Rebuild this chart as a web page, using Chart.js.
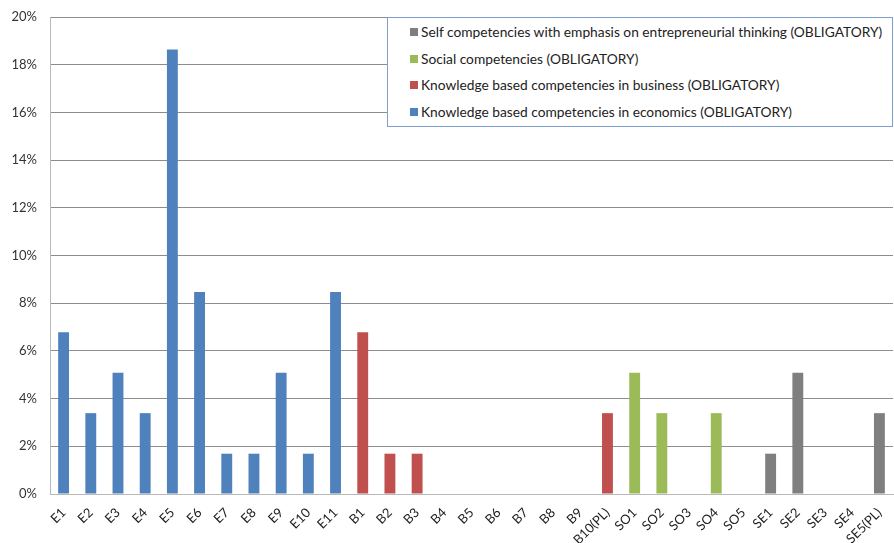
<!DOCTYPE html>
<html>
<head>
<meta charset="utf-8">
<script src="https://cdn.jsdelivr.net/npm/chart.js@4/dist/chart.umd.min.js"></script>
<style>
  html, body { margin: 0; padding: 0; background: #fff; }
  #wrap { position: relative; width: 894px; height: 543px; }
  #legend {
    position: absolute; left: 387px; top: 17px; width: 506px; height: 110px;
    box-sizing: border-box; border: 1px solid #7fa0cf; background: #fff;
    font-family: Lato, "Liberation Sans", sans-serif; font-size: 13.75px; color: #222;
    padding: 1px 0 0 22px;
  }
  #legend .item { height: 26.5px; line-height: 26.5px; white-space: nowrap; display: flex; align-items: center; }
  #legend .sw { width: 8px; height: 8px; margin-right: 3px; display: inline-block; }
</style>
</head>
<body>
<div id="wrap">
  <canvas id="c" width="894" height="543"></canvas>
  <div id="legend"></div>
</div>
<script>
// Competency codes along the x axis
const categories = ['E1','E2','E3','E4','E5','E6','E7','E8','E9','E10','E11',
  'B1','B2','B3','B4','B5','B6','B7','B8','B9','B10(PL)',
  'SO1','SO2','SO3','SO4','SO5',
  'SE1','SE2','SE3','SE4','SE5(PL)'];

// Share of mentions per competency (%), one list per group
const economicsCodes = ['E1','E2','E3','E4','E5','E6','E7','E8','E9','E10','E11'];
const economicsValues = [6.78, 3.39, 5.08, 3.39, 18.64, 8.47, 1.69, 1.69, 5.08, 1.69, 8.47];

const businessCodes = ['B1','B2','B3','B4','B5','B6','B7','B8','B9','B10(PL)'];
const businessValues = [6.78, 1.69, 1.69, 0, 0, 0, 0, 0, 0, 3.39];

const socialCodes = ['SO1','SO2','SO3','SO4','SO5'];
const socialValues = [5.08, 3.39, 0, 3.39, 0];

const selfCodes = ['SE1','SE2','SE3','SE4','SE5(PL)'];
const selfValues = [1.69, 5.08, 0, 0, 3.39];

const yTicks = [0, 2, 4, 6, 8, 10, 12, 14, 16, 18, 20];

// Spread one group's values across the full category list
function spread(codes, values) {
  return categories.map(c => {
    const i = codes.indexOf(c);
    return i >= 0 ? values[i] : null;
  });
}

const datasets = [
  { label: 'Knowledge based competencies in economics (OBLIGATORY)', data: spread(economicsCodes, economicsValues), backgroundColor: '#4f81bd' },
  { label: 'Knowledge based competencies in business (OBLIGATORY)', data: spread(businessCodes, businessValues), backgroundColor: '#c0504d' },
  { label: 'Social competencies (OBLIGATORY)', data: spread(socialCodes, socialValues), backgroundColor: '#9bbb59' },
  { label: 'Self competencies with emphasis on entrepreneurial thinking (OBLIGATORY)', data: spread(selfCodes, selfValues), backgroundColor: '#7f7f7f' }
];
datasets.forEach(d => { d.barPercentage = 0.4; d.categoryPercentage = 1.0; });

const tickFont = { family: 'Lato, "Liberation Sans", sans-serif', size: 13 };

const chart = new Chart(document.getElementById('c'), {
  type: 'bar',
  data: { labels: categories, datasets },
  options: {
    responsive: false,
    animation: false,
    layout: { padding: { top: 0, right: 1, left: 0, bottom: 0 } },
    plugins: { legend: { display: false }, tooltip: { enabled: false } },
    scales: {
      x: {
        stacked: true,
        grid: { display: false },
        border: { display: true, color: '#b9b9b9', width: 1 },
        ticks: { color: '#222', font: tickFont, maxRotation: 45, minRotation: 45, autoSkip: false, padding: 3 },
        afterFit: s => { s.height = 49; }
      },
      y: {
        stacked: true,
        min: 0, max: 20,
        afterBuildTicks: s => { s.ticks = yTicks.map(v => ({ value: v })); },
        grid: { color: '#8c8c8c', drawTicks: false, lineWidth: 1 },
        border: { display: true, color: '#b9b9b9', width: 1 },
        ticks: { color: '#333', font: tickFont, padding: 13, callback: v => v + '%' },
        afterFit: s => { s.width = 50; s.paddingTop = 17; }
      }
    }
  }
});

// Legend box, listed in reverse dataset order
const legend = document.getElementById('legend');
datasets.slice().reverse().forEach(d => {
  const row = document.createElement('div');
  row.className = 'item';
  const sw = document.createElement('span');
  sw.className = 'sw';
  sw.style.background = d.backgroundColor;
  row.appendChild(sw);
  row.appendChild(document.createTextNode(d.label));
  legend.appendChild(row);
});
</script>
</body>
</html>
